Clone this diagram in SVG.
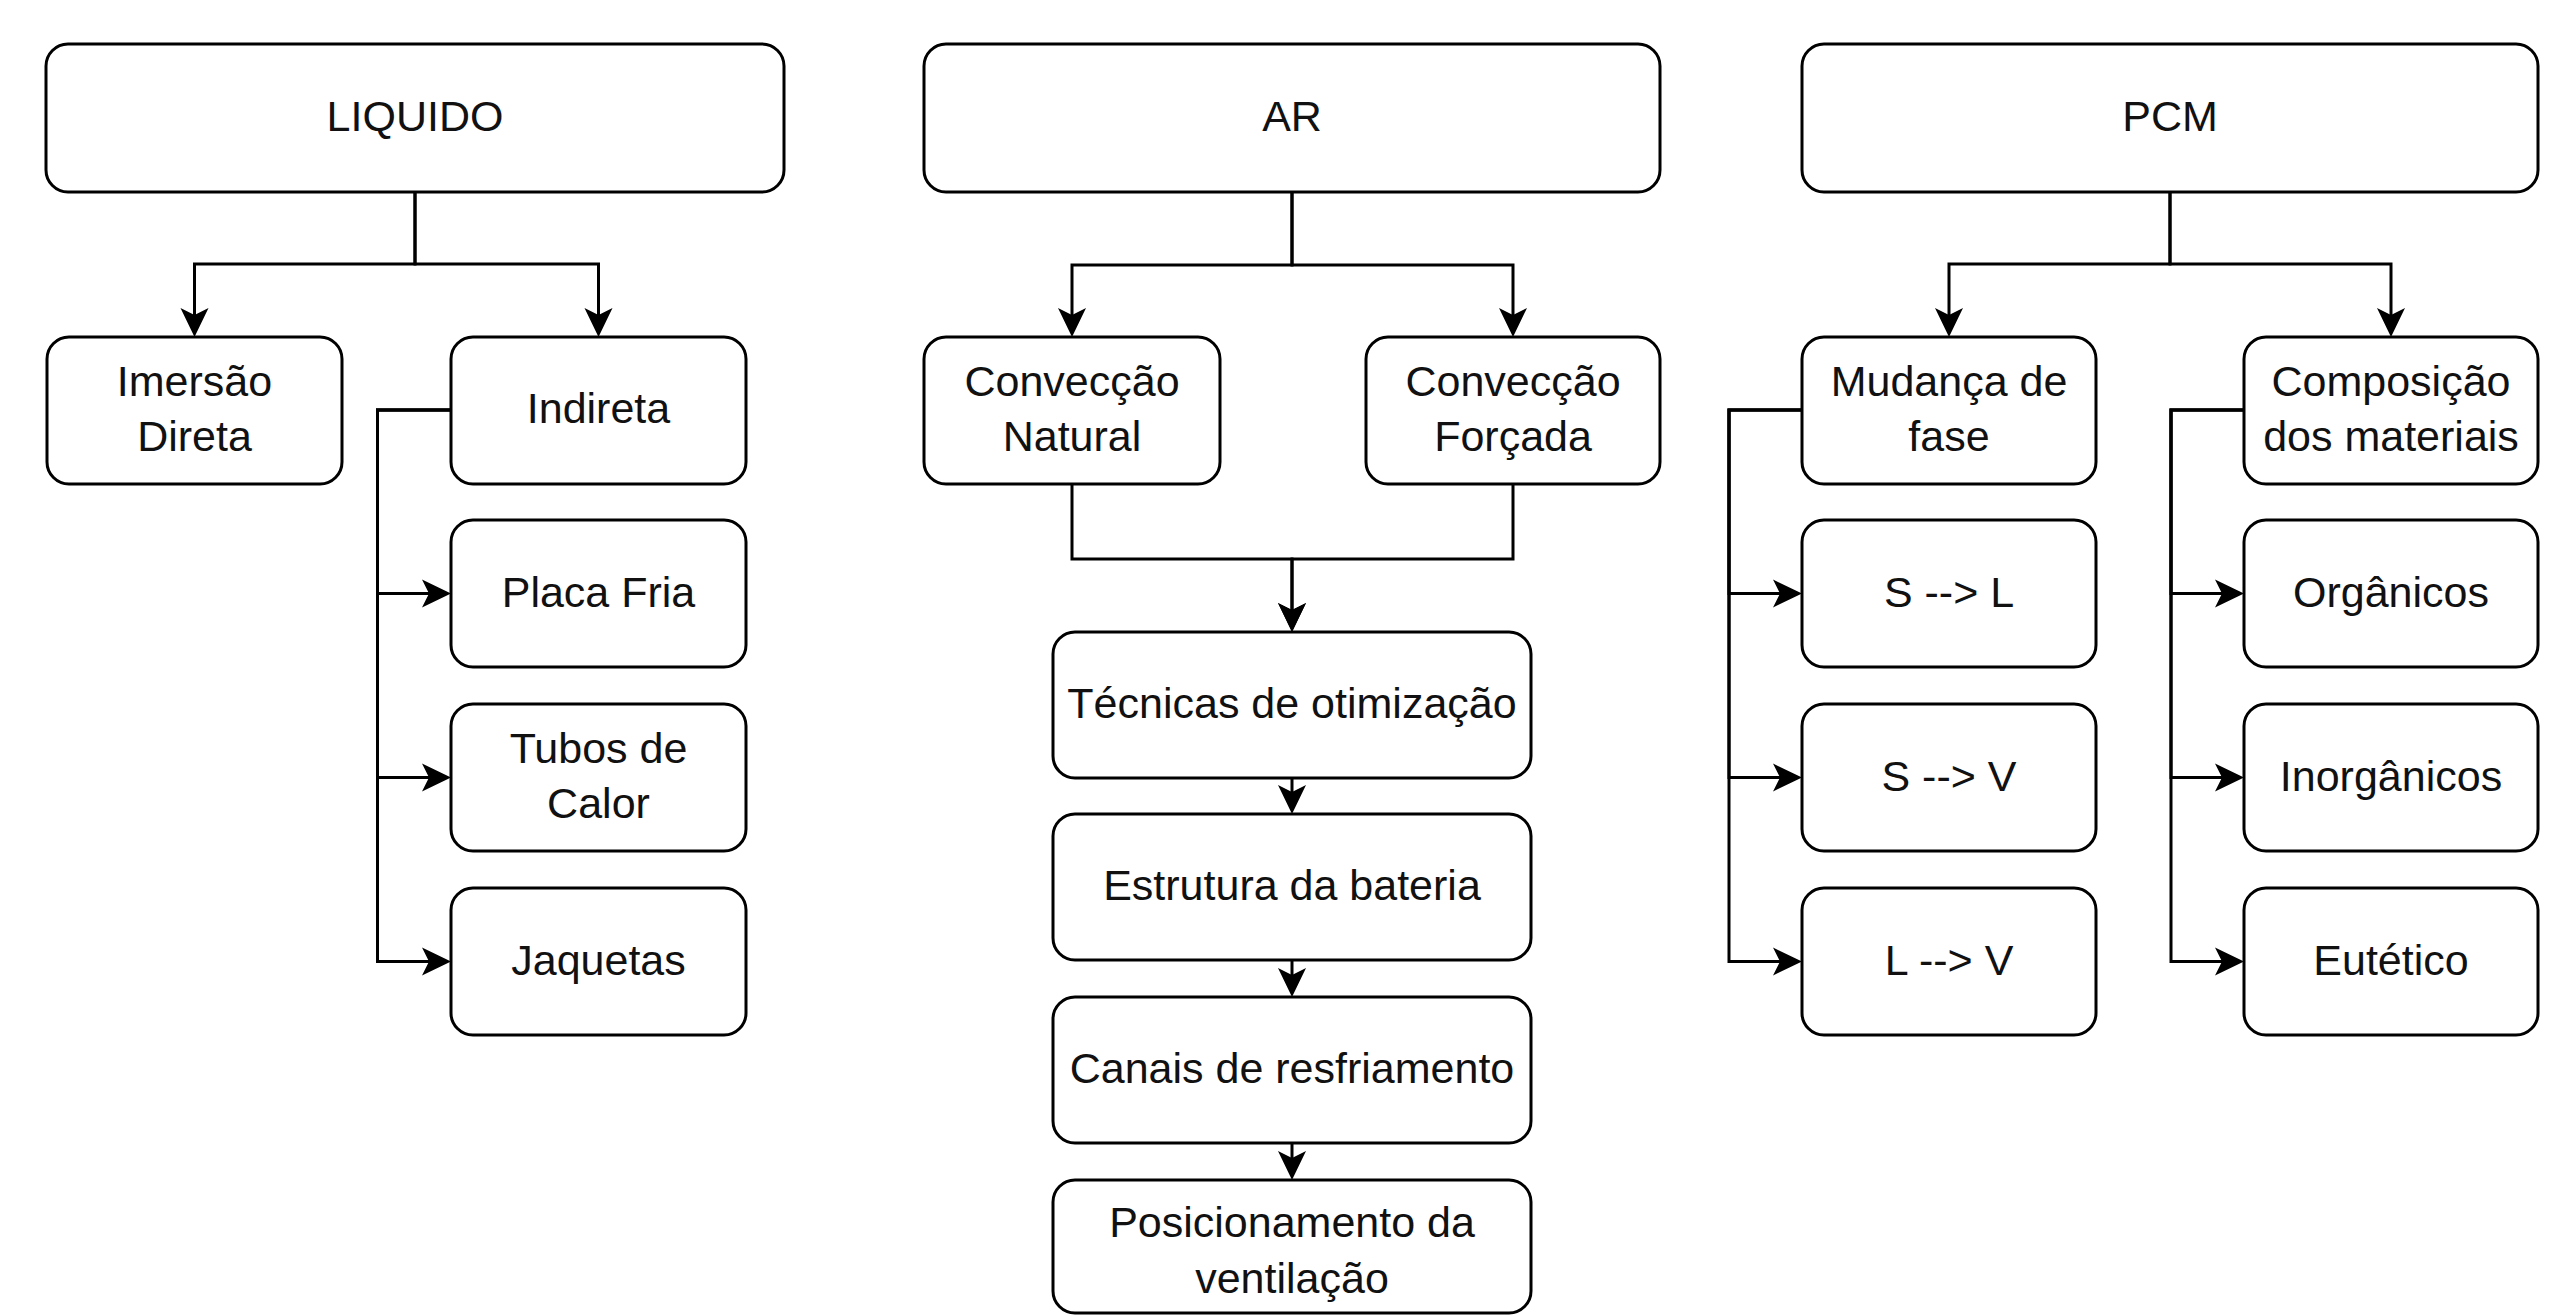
<svg xmlns="http://www.w3.org/2000/svg" width="2557" height="1316" viewBox="0 0 2557 1316">
<style>
.box{fill:#fff;stroke:#000;stroke-width:3}
.t{font-family:"Liberation Sans",Arial,sans-serif;font-size:43px;fill:#111;text-anchor:middle}
.c{fill:none;stroke:#000;stroke-width:3}
</style>
<defs>
<marker id="arr" viewBox="0 0 29 30" refX="19" refY="15" markerWidth="29" markerHeight="30" markerUnits="userSpaceOnUse" orient="auto">
<path d="M0,1 L29,15 L0,29 L7,15 Z" fill="#000"/>
</marker>
</defs>
<rect width="2557" height="1316" fill="#fff"/>
<g id="connectors">
<path class="c" d="M415,192 V264 H194.5 V327" marker-end="url(#arr)"/>
<path class="c" d="M415,192 V264 H598.5 V327" marker-end="url(#arr)"/>
<path class="c" d="M451,410 H377.5 V593.5 H441" marker-end="url(#arr)"/>
<path class="c" d="M451,410 H377.5 V777.5 H441" marker-end="url(#arr)"/>
<path class="c" d="M451,410 H377.5 V961.5 H441" marker-end="url(#arr)"/>
<path class="c" d="M1292,192 V265 H1072 V327" marker-end="url(#arr)"/>
<path class="c" d="M1292,192 V265 H1513 V327" marker-end="url(#arr)"/>
<path class="c" d="M1072,484 V559 H1292 V622" marker-end="url(#arr)"/>
<path class="c" d="M1513,484 V559 H1292 V622" marker-end="url(#arr)"/>
<path class="c" d="M1292,778 V804" marker-end="url(#arr)"/>
<path class="c" d="M1292,960 V987" marker-end="url(#arr)"/>
<path class="c" d="M1292,1143 V1170" marker-end="url(#arr)"/>
<path class="c" d="M2170,192 V264 H1949 V327" marker-end="url(#arr)"/>
<path class="c" d="M2170,192 V264 H2391 V327" marker-end="url(#arr)"/>
<path class="c" d="M1802,410 H1729 V593.5 H1792" marker-end="url(#arr)"/>
<path class="c" d="M1802,410 H1729 V777.5 H1792" marker-end="url(#arr)"/>
<path class="c" d="M1802,410 H1729 V961.5 H1792" marker-end="url(#arr)"/>
<path class="c" d="M2244,410 H2171 V593.5 H2234" marker-end="url(#arr)"/>
<path class="c" d="M2244,410 H2171 V777.5 H2234" marker-end="url(#arr)"/>
<path class="c" d="M2244,410 H2171 V961.5 H2234" marker-end="url(#arr)"/>
</g>
<g id="liquido"><rect class="box" x="46" y="44" width="738" height="148" rx="22"/><text class="t" x="415" y="131">LIQUIDO</text></g>
<g id="imersao"><rect class="box" x="47" y="337" width="295" height="147" rx="22"/><text class="t" x="194.5" y="396">Imersão</text><text class="t" x="194.5" y="451">Direta</text></g>
<g id="indireta"><rect class="box" x="451" y="337" width="295" height="147" rx="22"/><text class="t" x="598.5" y="423">Indireta</text></g>
<g id="placa"><rect class="box" x="451" y="520" width="295" height="147" rx="22"/><text class="t" x="598.5" y="606.5">Placa Fria</text></g>
<g id="tubos"><rect class="box" x="451" y="704" width="295" height="147" rx="22"/><text class="t" x="598.5" y="763">Tubos de</text><text class="t" x="598.5" y="818">Calor</text></g>
<g id="jaquetas"><rect class="box" x="451" y="888" width="295" height="147" rx="22"/><text class="t" x="598.5" y="974.5">Jaquetas</text></g>
<g id="ar"><rect class="box" x="924" y="44" width="736" height="148" rx="22"/><text class="t" x="1292" y="131">AR</text></g>
<g id="natural"><rect class="box" x="924" y="337" width="296" height="147" rx="22"/><text class="t" x="1072" y="396">Convecção</text><text class="t" x="1072" y="451">Natural</text></g>
<g id="forcada"><rect class="box" x="1366" y="337" width="294" height="147" rx="22"/><text class="t" x="1513" y="396">Convecção</text><text class="t" x="1513" y="451">Forçada</text></g>
<g id="tecnicas"><rect class="box" x="1053" y="632" width="478" height="146" rx="22"/><text class="t" x="1292" y="718">Técnicas de otimização</text></g>
<g id="estrutura"><rect class="box" x="1053" y="814" width="478" height="146" rx="22"/><text class="t" x="1292" y="900">Estrutura da bateria</text></g>
<g id="canais"><rect class="box" x="1053" y="997" width="478" height="146" rx="22"/><text class="t" x="1292" y="1083">Canais de resfriamento</text></g>
<g id="posicionamento"><rect class="box" x="1053" y="1180" width="478" height="133" rx="22"/><text class="t" x="1292" y="1237">Posicionamento da</text><text class="t" x="1292" y="1293">ventilação</text></g>
<g id="pcm"><rect class="box" x="1802" y="44" width="736" height="148" rx="22"/><text class="t" x="2170" y="131">PCM</text></g>
<g id="mudanca"><rect class="box" x="1802" y="337" width="294" height="147" rx="22"/><text class="t" x="1949" y="396">Mudança de</text><text class="t" x="1949" y="451">fase</text></g>
<g id="composicao"><rect class="box" x="2244" y="337" width="294" height="147" rx="22"/><text class="t" x="2391" y="396">Composição</text><text class="t" x="2391" y="451">dos materiais</text></g>
<g id="sl"><rect class="box" x="1802" y="520" width="294" height="147" rx="22"/><text class="t" x="1949" y="606.5">S --&gt; L</text></g>
<g id="sv"><rect class="box" x="1802" y="704" width="294" height="147" rx="22"/><text class="t" x="1949" y="790.5">S --&gt; V</text></g>
<g id="lv"><rect class="box" x="1802" y="888" width="294" height="147" rx="22"/><text class="t" x="1949" y="974.5">L --&gt; V</text></g>
<g id="organicos"><rect class="box" x="2244" y="520" width="294" height="147" rx="22"/><text class="t" x="2391" y="606.5">Orgânicos</text></g>
<g id="inorganicos"><rect class="box" x="2244" y="704" width="294" height="147" rx="22"/><text class="t" x="2391" y="790.5">Inorgânicos</text></g>
<g id="eutetico"><rect class="box" x="2244" y="888" width="294" height="147" rx="22"/><text class="t" x="2391" y="974.5">Eutético</text></g>
</svg>
